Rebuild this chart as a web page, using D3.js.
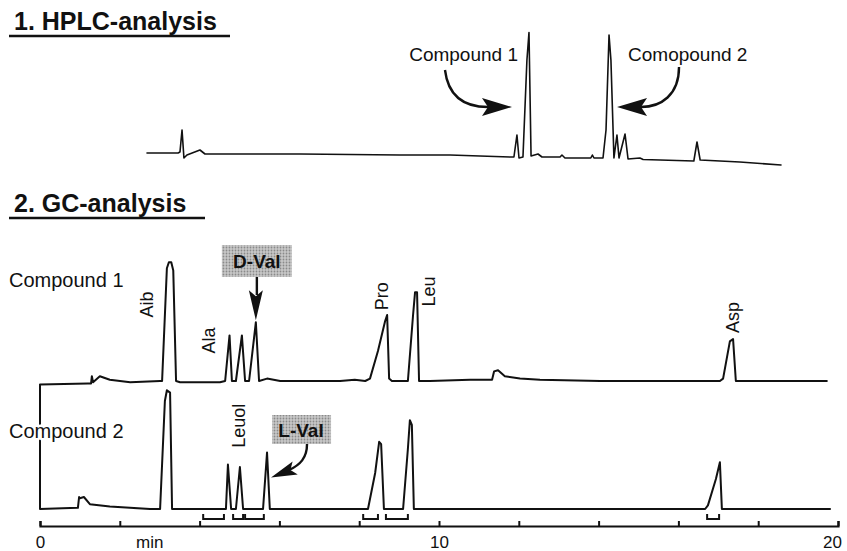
<!DOCTYPE html>
<html>
<head>
<meta charset="utf-8">
<script src="https://cdn.jsdelivr.net/npm/d3@7"></script>
<style>
  body { margin: 0; background: #fff; }
  svg { display: block; font-family: "Liberation Sans", Arial, Helvetica, sans-serif; }
  .trace { fill: none; stroke: #111; stroke-linejoin: round; stroke-linecap: round; }
  .halo { paint-order: stroke; stroke: #fff; stroke-width: 5px; stroke-linejoin: round; }
</style>
</head>
<body>
<svg id="chart" width="847" height="551"></svg>
<script>
// ---- data ----
// HPLC trace: [time (min), detector response]
var hplcTrace = [
  [0, 5.6], [1.96, 5.6], [2.08, 6.4], [2.21, 24], [2.33, 1.6], [2.52, 4], [3.34, 8], [3.66, 4.8],
  [9.65, 4.8], [15.96, 4], [19.12, 4], [21.0, 3.2], [22.9, 2.4], [23.15, 2.4], [23.34, 20],
  [23.47, 1.6], [23.72, 2.4], [23.97, 80], [24.1, 102], [24.23, 3.2], [24.67, 4.8], [24.92, 2.4],
  [26.06, 2.4], [26.18, 4], [26.37, 1.6], [28.0, 1.6], [28.1, 4], [28.2, 1.6], [28.77, 1.6],
  [28.96, 24], [29.15, 100], [29.27, 80], [29.46, 1.6], [29.65, 20], [29.78, 1.6], [30.16, 20.8],
  [30.35, 0.8], [31.1, 1.6], [31.3, 0.4], [32.37, 0], [34.5, -0.8], [34.7, 14.4], [34.9, 0],
  [37.4, -1.6], [40, -4]
];
var hplcNames = ["Compound 1", "Comopound 2"];
var hplcPeakTimes = [24.1, 29.15];

// GC traces: [time (min), response]
var gcCompound1 = [
  [0, -3], [1.2, -2], [1.28, -2], [1.3, 4], [1.33, -1], [1.5, 4], [1.75, 1], [2.26, -1], [3.01, 0],
  [3.06, 0], [3.18, 94], [3.23, 99], [3.29, 99], [3.34, 92], [3.41, 0], [3.51, -1], [4.51, -1],
  [4.64, 0], [4.75, 38], [4.81, 0], [4.91, 0], [5.06, 38], [5.14, 0], [5.24, 0], [5.41, 49],
  [5.49, 0], [5.69, 2], [6.02, 0], [7.52, 0], [7.89, 1], [8.15, 0], [8.27, 2], [8.47, 25],
  [8.65, 50], [8.7, 55], [8.75, 2], [8.82, 0], [9.15, 0], [9.22, 0], [9.35, 55], [9.4, 74],
  [9.45, 74], [9.5, 0], [9.77, 0], [10.78, 1], [11.33, 1], [11.38, 8], [11.48, 9], [11.65, 4],
  [12.03, 2], [12.53, 1], [14.04, 0], [17.04, 0], [17.12, 2], [17.29, 33], [17.37, 35],
  [17.44, 0], [17.54, 0], [19.72, 0]
];
var gcCompound2 = [
  [0, 103], [0, 0], [0.95, 1], [0.98, 10], [1.0, 9], [1.1, 10], [1.25, 4], [1.75, 2], [2.76, 0],
  [2.96, 0], [3.01, 0], [3.13, 90], [3.18, 99], [3.26, 97], [3.31, 0], [3.38, 0], [4.56, 0],
  [4.66, 0], [4.71, 37], [4.79, 0], [4.91, 0], [5.01, 35], [5.09, 0], [5.51, 0], [5.59, 0],
  [5.69, 47], [5.76, 0], [7.52, 0], [8.15, 0], [8.22, 0], [8.4, 30], [8.5, 56], [8.55, 54],
  [8.62, 0], [9.02, 0], [9.1, 0], [9.22, 50], [9.27, 74], [9.32, 70], [9.37, 0], [11.53, 0],
  [16.67, 0], [16.74, 3], [16.94, 25], [17.04, 39], [17.09, 0], [19.8, 0]
];
// rotated peak labels: [text, time, response at label start]
var gc1Labels = [["Aib", 2.83, 53], ["Ala", 4.39, 23], ["Pro", 8.72, 59], ["Leu", 9.9, 62], ["Asp", 17.52, 40]];
var gc2Labels = [["Leuol", 5.14, 51]];
// integration brackets under compound 2: [start, end] (min)
var gcBrackets = [[4.09, 4.61], [4.84, 5.09], [5.14, 5.61], [8.10, 8.47], [8.67, 9.22], [16.72, 17.02]];
// highlighted peaks: [label, time, response]
var dValPeak = ["D-Val", 5.41, 49];
var lValPeak = ["L-Val", 5.69, 47];
var axisTicks = [0, 2, 4, 6, 8, 10, 12, 14, 16, 18, 20];
var axisLabels = ["0", "10", "20"];
var axisUnit = "min";

// ---- scales ----
var svg = d3.select("#chart");
var hx = d3.scaleLinear().domain([0, 40]).range([147, 781]);
var hy = d3.scaleLinear().domain([0, 100]).range([160, 35]);
var gx = d3.scaleLinear().domain([0, 20]).range([40, 838]);
var gy1 = d3.scaleLinear().domain([0, 100]).range([381, 261]);
var gy2 = d3.scaleLinear().domain([0, 100]).range([509, 389]);

// halftone fill for the Val boxes
var pat = svg.append("defs").append("pattern")
  .attr("id", "dots").attr("width", 3).attr("height", 3).attr("patternUnits", "userSpaceOnUse");
pat.append("rect").attr("width", 3).attr("height", 3).attr("fill", "#c8c8c8");
pat.append("circle").attr("cx", 1.5).attr("cy", 1.5).attr("r", 0.9).attr("fill", "#8a8a8a");

function arrowHead(g, tx, ty, angle, len, half) {
  // angle: direction the arrow points to (radians)
  var c = Math.cos(angle), s = Math.sin(angle);
  var bx = tx - c * len, by = ty - s * len;
  var nx = tx - c * len * 0.8, ny = ty - s * len * 0.8;
  var pts = [[tx, ty], [bx - s * half, by + c * half], [nx, ny], [bx + s * half, by - c * half]];
  g.append("path").attr("d", "M" + pts.join("L") + "Z").attr("fill", "#111");
}

// ---- titles ----
function title(txt, x, y, lineEnd) {
  svg.append("text").attr("x", x).attr("y", y).attr("font-size", 25).attr("font-weight", "bold")
    .attr("fill", "#111").text(txt);
  svg.append("line").attr("x1", 9).attr("x2", lineEnd).attr("y1", y + 6).attr("y2", y + 6)
    .attr("stroke", "#111").attr("stroke-width", 2.6);
}
title("1. HPLC-analysis", 14, 30, 230);
title("2. GC-analysis", 14, 212, 205);

// ---- HPLC ----
svg.append("path").datum(hplcTrace).attr("class", "trace").attr("stroke-width", 1.6)
  .attr("d", d3.line().x(function (d) { return hx(d[0]); }).y(function (d) { return hy(d[1]); }));

var hg = svg.append("g");
hg.append("text").attr("x", hx(hplcPeakTimes[0]) - 11).attr("y", 61).attr("text-anchor", "end")
  .attr("font-size", 19).attr("fill", "#111").text(hplcNames[0]);
hg.append("text").attr("x", hx(hplcPeakTimes[1]) + 19).attr("y", 61)
  .attr("font-size", 19).attr("fill", "#111").text(hplcNames[1]);
var t1 = hx(hplcPeakTimes[0]) - 17, t2 = hx(hplcPeakTimes[1]) + 8, ay = 107;
hg.append("path").attr("fill", "none").attr("stroke", "#111").attr("stroke-width", 2.4)
  .attr("d", "M" + (t1 - 67) + ",70 C" + (t1 - 64) + ",95 " + (t1 - 50) + "," + ay + " " + (t1 - 24) + "," + ay);
arrowHead(hg, t1, ay, 0, 30, 9);
hg.append("path").attr("fill", "none").attr("stroke", "#111").attr("stroke-width", 2.4)
  .attr("d", "M" + (t2 + 62) + ",67 C" + (t2 + 62) + ",95 " + (t2 + 44) + "," + ay + " " + (t2 + 24) + "," + ay);
arrowHead(hg, t2, ay, Math.PI, 30, 9);

// ---- GC ----
var line1 = d3.line().x(function (d) { return gx(d[0]); }).y(function (d) { return gy1(d[1]); });
var line2 = d3.line().x(function (d) { return gx(d[0]); }).y(function (d) { return gy2(d[1]); });
svg.append("path").datum(gcCompound1).attr("class", "trace").attr("stroke-width", 2).attr("d", line1);
svg.append("path").datum(gcCompound2).attr("class", "trace").attr("stroke-width", 2).attr("d", line2);

svg.append("text").attr("class", "halo").attr("x", 9).attr("y", 287).attr("font-size", 20).attr("fill", "#111").text("Compound 1");
svg.append("text").attr("class", "halo").attr("x", 9).attr("y", 438).attr("font-size", 20).attr("fill", "#111").text("Compound 2");

function rotLabels(data, yScale) {
  svg.append("g").selectAll("text").data(data).enter().append("text")
    .attr("transform", function (d) { return "translate(" + gx(d[1]) + "," + yScale(d[2]) + ") rotate(-90)"; })
    .attr("font-size", 18).attr("fill", "#111").text(function (d) { return d[0]; });
}
rotLabels(gc1Labels, gy1);
rotLabels(gc2Labels, gy2);

// D-Val box + straight arrow
var dx = gx(dValPeak[1]), dy = gy1(dValPeak[2]);
svg.append("rect").attr("x", dx - 34).attr("y", 245).attr("width", 70).attr("height", 32).attr("fill", "url(#dots)");
svg.append("text").attr("x", dx + 1).attr("y", 268).attr("text-anchor", "middle").attr("font-size", 19)
  .attr("font-weight", "bold").attr("fill", "#111").text(dValPeak[0]);
svg.append("line").attr("x1", dx + 1).attr("x2", dx + 1).attr("y1", 277).attr("y2", 295)
  .attr("stroke", "#111").attr("stroke-width", 2.4);
arrowHead(svg, dx, dy - 2, Math.PI / 2, 30, 7);

// L-Val box + curved arrow
var lx = gx(lValPeak[1]), ly = gy2(lValPeak[2]);
svg.append("rect").attr("x", lx + 5).attr("y", 415).attr("width", 59).attr("height", 29).attr("fill", "url(#dots)");
svg.append("text").attr("x", lx + 34).attr("y", 437).attr("text-anchor", "middle").attr("font-size", 19)
  .attr("font-weight", "bold").attr("fill", "#111").text(lValPeak[0]);
svg.append("path").attr("fill", "none").attr("stroke", "#111").attr("stroke-width", 2.4)
  .attr("d", "M" + (lx + 40) + ",444 C" + (lx + 40) + ",458 " + (lx + 33) + ",465 " + (lx + 22) + ",470");
arrowHead(svg, lx + 4, ly + 25, Math.PI * 0.88, 26, 7);

// integration brackets
var bg = svg.append("g").attr("fill", "none").attr("stroke", "#111").attr("stroke-width", 2);
bg.selectAll("path").data(gcBrackets).enter().append("path")
  .attr("d", function (d) {
    return "M" + gx(d[0]) + ",514V519H" + gx(d[1]) + "V514";
  });

// time axis
var axis = d3.axisBottom(gx).tickValues(axisTicks).tickSize(-5).tickPadding(10)
  .tickFormat(function (d) { return axisLabels.indexOf(String(d)) >= 0 ? String(d) : ""; });
var ag = svg.append("g").attr("transform", "translate(0,526)").call(axis);
ag.select(".domain").attr("stroke", "#111").attr("stroke-width", 2.2);
ag.selectAll(".tick line").attr("stroke", "#111").attr("stroke-width", 2);
ag.selectAll(".tick text").attr("font-size", 17).attr("fill", "#111")
  .attr("font-family", "Liberation Sans, Arial, sans-serif")
  .attr("dx", function (d) { return d === 20 ? -6 : 0; });
ag.append("text").attr("x", gx(2.75)).attr("y", 10).attr("dy", "0.71em").attr("text-anchor", "middle")
  .attr("font-size", 17).attr("fill", "#111").text(axisUnit);
</script>
</body>
</html>
